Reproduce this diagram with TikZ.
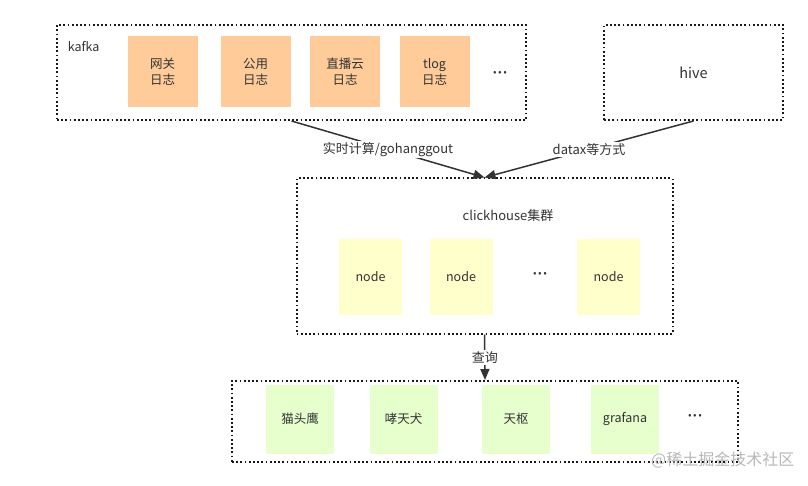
\documentclass[tikz,border=0pt]{standalone}
\usepackage{fontspec}
\setmainfont{Noto Sans CJK SC}
\newfontfamily\dotfont{Noto Sans}
\usetikzlibrary{arrows.meta}
\definecolor{inkgray}{HTML}{333333}
\definecolor{logfill}{HTML}{FFCC99}
\definecolor{nodefill}{HTML}{FFFFCC}
\definecolor{appfill}{HTML}{E6FFCC}
\newcommand{\moredots}{{\dotfont\bfseries\fontsize{19}{20}\selectfont ···}}
\begin{document}
\begin{tikzpicture}[x=1pt,y=-1pt,line width=1.5pt,
  every node/.style={text=inkgray,font=\fontsize{12.5}{16}\selectfont,inner sep=0pt},
  group/.style={draw=black!90,dash pattern=on 1.8pt off 2.4pt,line width=2pt},
  logbox/.style={fill=logfill,minimum width=70pt,minimum height=71pt,align=center},
  chbox/.style={fill=nodefill,minimum width=63pt,minimum height=75pt},
  appbox/.style={fill=appfill,minimum width=68pt,minimum height=69pt},
  flow/.style={draw=inkgray,-{Triangle[length=11pt,width=9pt]}},
  flowtext/.style={fill=white,inner sep=1.5pt,font=\fontsize{13}{16}\selectfont}]
\useasboundingbox (0,0) rectangle (808,486);
\node[group,minimum width=469pt,minimum height=95pt] (kafka) at (291.5,72.5) {};
\node[group,minimum width=179pt,minimum height=95pt,font=\fontsize{14.5}{16}\selectfont] (hive) at (693.5,72.5) {hive};
\node[group,minimum width=376pt,minimum height=155pt] (ch) at (484.5,256) {};
\node[group,minimum width=506pt,minimum height=81pt] (apps) at (485,421.5) {};
\node[anchor=west] (kafkalabel) at (67,47) {kafka};
\node[logbox] (gateway) at (162.5,72) {网关\\日志};
\node[logbox] (common) at (255.5,72) {公用\\日志};
\node[logbox] (live) at (345,72) {直播云\\日志};
\node[logbox] (tlog) at (434.5,72) {tlog\\日志};
\node (kafkamore) at (500,76) {\moredots};
\node[font=\fontsize{13}{16}\selectfont] (chlabel) at (508,216) {clickhouse集群};
\node[chbox] (node1) at (370.5,277) {node};
\node[chbox] (node2) at (461,277) {node};
\node (chmore) at (540,277) {\moredots};
\node[chbox] (node3) at (608.5,277) {node};
\node[appbox] (owl) at (300,419) {猫头鹰};
\node[appbox] (dog) at (403.5,419) {哮天犬};
\node[appbox] (tianshu) at (516,419) {天枢};
\node[appbox] (grafana) at (625,419) {grafana};
\node (appmore) at (695,419) {\moredots};
\draw[flow] (kafka.south) -- node[flowtext] (flowa) {实时计算/gohanggout} (ch.north);
\draw[flow] (hive.south) -- node[flowtext] (flowb) {datax等方式} (ch.north);
\draw[flow] (ch.south) -- node[flowtext] (flowc) {查询} (apps.north);
\node[text=black!28,font=\fontsize{16}{18}\selectfont,anchor=east] (mark) at (795,460) {@稀土掘金技术社区};
\end{tikzpicture}
\end{document}
